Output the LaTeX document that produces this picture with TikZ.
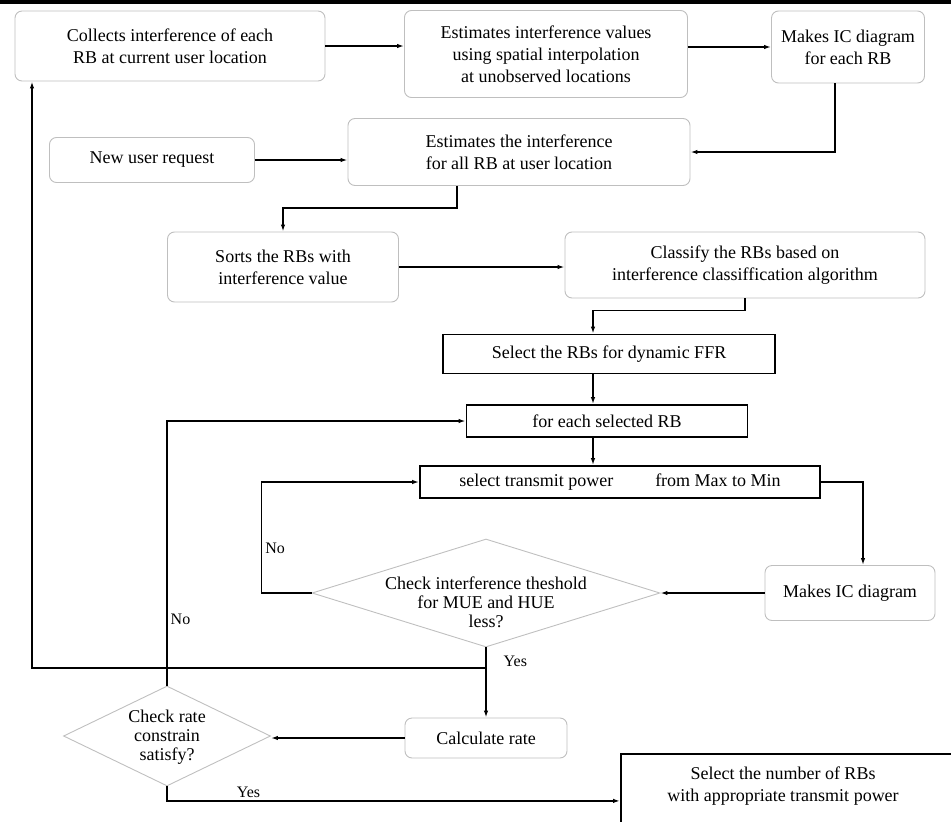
\documentclass[tikz,border=0pt]{standalone}
\usepackage{fontspec}
\setmainfont{Liberation Serif}
\usetikzlibrary{arrows.meta,shapes.geometric,calc}

\begin{document}
\begin{tikzpicture}[
  x=1pt, y=-1pt,
  >={Latex[length=7pt,width=4.5pt]},
  every node/.style={font=\fontsize{18}{22}\selectfont, align=center},
  roundbox/.style={rectangle, rounded corners=7pt, draw=black!25, line width=0.9pt,
                   inner sep=2pt},
  sharpbox/.style={rectangle, draw, line width=1.8pt, inner sep=2pt},
  decision/.style={diamond, draw=black!25, line width=0.9pt, inner sep=0pt},
  asktext/.style={font=\fontsize{18}{19}\selectfont, align=center},
  conn/.style={line width=1.4pt},
  answer/.style={font=\fontsize{16}{18}\selectfont, inner sep=3pt},
]
  \useasboundingbox (0,0) rectangle (951,822);
  \clip (0,0) rectangle (951,822);
  \fill (0,0) rectangle (951,4);

  % Interference map
  \node[roundbox, minimum width=310, minimum height=70] (collect) at (170,46)
    {Collects interference of each\\RB at current user location};
  \node[roundbox, minimum width=283, minimum height=87] (interp) at (546,54)
    {Estimates interference values\\using spatial interpolation\\at unobserved locations};
  \node[roundbox, minimum width=153, minimum height=72] (icmap) at (848,47)
    {Makes IC diagram\\for each RB};

  \draw[conn,->] (collect.east) -- (collect.east -| interp.west);
  \draw[conn,->] (icmap.west -| interp.east) -- (icmap.west);

  % New user
  \node[roundbox, minimum width=205, minimum height=45] (request) at (152,160)
    {New user request};
  \node[roundbox, minimum width=342, minimum height=67] (userint) at (519,152)
    {Estimates the interference\\for all RB at user location};

  \draw[conn,->] ([xshift=-13]icmap.south) |- (userint.east);
  \draw[conn,->] (request.east) -- (request.east -| userint.west);

  % Sorting and classification
  \node[roundbox, minimum width=231, minimum height=70] (sorts) at (283,267)
    {Sorts the RBs with\\interference value};
  \node[roundbox, minimum width=360, minimum height=66] (classify) at (745,265)
    {Classify the RBs based on\\interference classiffication algorithm};
  \node[sharpbox, minimum width=332, minimum height=39] (ffr) at (609,354)
    {Select the RBs for dynamic FFR};

  \draw[conn,->] ([xshift=-62]userint.south) -- ++(0,22) -| (sorts.north);
  \draw[conn,->] (sorts.east) -- (sorts.east -| classify.west);
  \draw[conn,->] (classify.south) -- ++(0,12) -| ([xshift=-16]ffr.north);

  % Power loop
  \node[sharpbox, minimum width=281, minimum height=32] (eachrb) at (607,421)
    {for each selected RB};
  \node[sharpbox, minimum width=400, minimum height=32] (power) at (620,482)
    {select transmit power\hspace{42pt}from Max to Min};
  \node[roundbox, minimum width=170, minimum height=55] (icdiag) at (850,593)
    {Makes IC diagram};
  \node[decision, minimum width=348, minimum height=108,
        label={[asktext, yshift=-9pt]center:Check interference theshold\\for MUE and HUE\\less?}]
    (thresh) at (486,593) {};

  \draw[conn,->] ([xshift=-16]ffr.south) -- ([xshift=-14]eachrb.north);
  \draw[conn,->] ([xshift=-14]eachrb.south) -- ([xshift=-27]power.north);
  \draw[conn,->] (power.east) -| ([xshift=13]icdiag.north);
  \draw[conn,->] (icdiag.west) -- (thresh.east);
  \draw[conn,->] (thresh.west) -- ++(-50,0)
    |- node[answer, pos=0.2, right] {No} (power.west);

  % Rate check
  \node[roundbox, minimum width=162, minimum height=40] (rate) at (486,738)
    {Calculate rate};
  \node[decision, minimum width=207, minimum height=100,
        label={[asktext, yshift=-1pt]center:Check rate\\constrain\\satisfy?}]
    (ratechk) at (167,736) {};
  \node[sharpbox, minimum width=400, minimum height=94, anchor=north west]
    (result) at (620,753) {};
  \node at (783,786) {Select the number of RBs\\with appropriate transmit power};

  \coordinate (back) at (486,668);
  \draw[conn,->] (thresh.south) -- node[answer, pos=0.2, right, xshift=14] {Yes}
    (rate.north);
  \draw[conn,->] (back) -| ([xshift=-138]collect.south);
  \draw[conn,->] (rate.west) -- (rate.west -| ratechk.east);
  \draw[conn,->] (ratechk.north) |- node[answer, pos=0.125, right] {No} (eachrb.west);
  \draw[conn,->] (ratechk.south) |- node[answer, pos=0.59, above] {Yes} (result.west);
\end{tikzpicture}
\end{document}
